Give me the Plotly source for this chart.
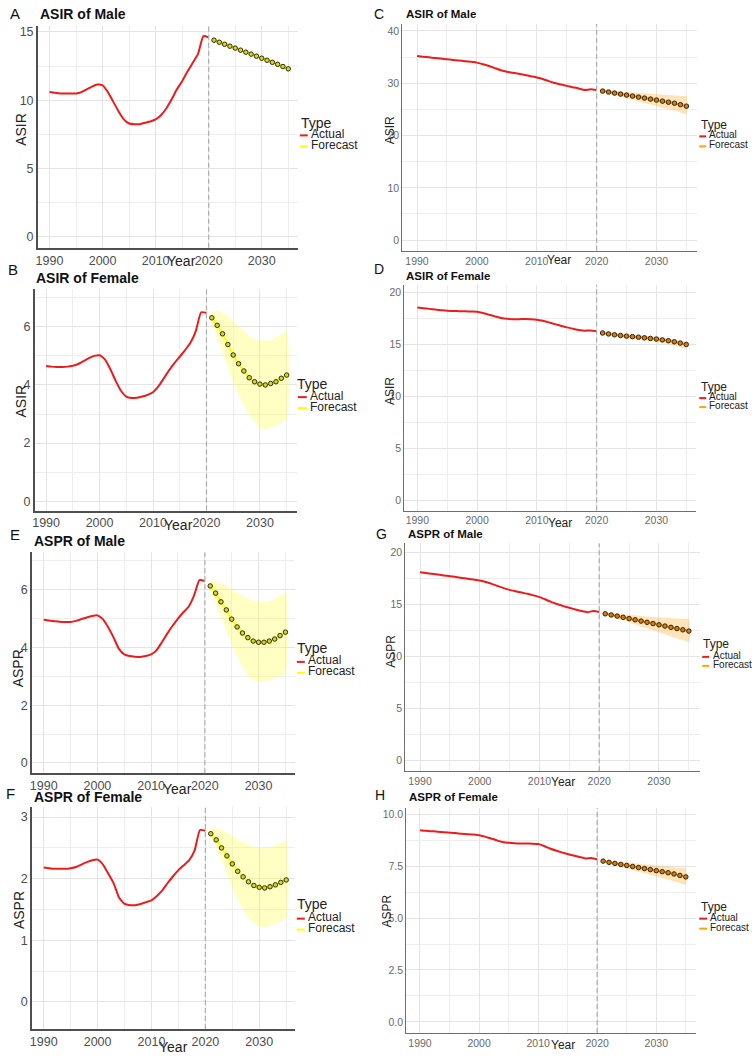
import plotly.graph_objects as go

W, H = 752, 1058

# ---------------- data ----------------
years_actual = list(range(1990, 2021))
years_forecast = list(range(2021, 2036))
divider_year = 2020

# A: ASIR of Male (left)
a_actual = [10.6, 10.55, 10.5, 10.5, 10.5, 10.5, 10.6, 10.8, 11.0, 11.15, 11.1, 10.6, 9.9, 9.2, 8.6,
            8.3, 8.25, 8.25, 8.35, 8.45, 8.6, 8.9, 9.4, 10.05, 10.8, 11.4, 12.1, 12.75, 13.4, 14.7, 14.6]
a_forecast = [14.4, 14.25, 14.1, 13.96, 13.82, 13.67, 13.52, 13.38, 13.23, 13.08, 12.93, 12.78, 12.63, 12.47, 12.3]

# B: ASIR of Female (left)
b_actual = [4.65, 4.63, 4.62, 4.62, 4.63, 4.66, 4.72, 4.82, 4.92, 5.0, 5.02, 4.88, 4.55, 4.15, 3.8,
            3.6, 3.55, 3.56, 3.6, 3.66, 3.75, 3.95, 4.22, 4.5, 4.75, 4.97, 5.2, 5.45, 5.85, 6.5, 6.48]
b_forecast = [6.31, 6.05, 5.76, 5.39, 5.03, 4.73, 4.48, 4.25, 4.11, 4.03, 4.0, 4.05, 4.11, 4.23, 4.34]
b_upper = [6.54, 6.54, 6.47, 6.37, 6.2, 6.02, 5.85, 5.68, 5.6, 5.54, 5.53, 5.54, 5.62, 5.75, 5.85]
b_lower = [6.08, 5.62, 5.1, 4.6, 4.12, 3.68, 3.3, 3.0, 2.74, 2.54, 2.48, 2.51, 2.6, 2.71, 2.79]

# E: ASPR of Male (left)
e_actual = [4.96, 4.93, 4.91, 4.89, 4.88, 4.88, 4.92, 4.98, 5.04, 5.09, 5.11, 4.98, 4.7, 4.35, 3.95,
            3.76, 3.7, 3.68, 3.67, 3.7, 3.76, 3.9, 4.18, 4.48, 4.75, 5.0, 5.22, 5.42, 5.8, 6.33, 6.3]
e_forecast = [6.13, 5.88, 5.58, 5.3, 4.98, 4.71, 4.5, 4.34, 4.22, 4.18, 4.18, 4.22, 4.29, 4.41, 4.53]
e_upper = [6.32, 6.3, 6.26, 6.15, 6.03, 5.9, 5.8, 5.7, 5.63, 5.58, 5.57, 5.6, 5.69, 5.8, 5.92]
e_lower = [5.98, 5.5, 5.05, 4.58, 4.13, 3.7, 3.32, 3.05, 2.88, 2.8, 2.8, 2.84, 2.92, 3.0, 3.09]

# F: ASPR of Female (left)
f_actual = [2.18, 2.17, 2.16, 2.16, 2.16, 2.17, 2.19, 2.23, 2.27, 2.3, 2.31, 2.23, 2.08, 1.92, 1.69,
            1.59, 1.57, 1.57, 1.59, 1.62, 1.65, 1.72, 1.81, 1.93, 2.04, 2.14, 2.22, 2.3, 2.46, 2.79, 2.78]
f_forecast = [2.73, 2.63, 2.5, 2.37, 2.24, 2.12, 2.03, 1.95, 1.89, 1.86, 1.85, 1.87, 1.9, 1.94, 1.98]
f_upper = [2.84, 2.82, 2.79, 2.75, 2.7, 2.65, 2.59, 2.55, 2.51, 2.5, 2.5, 2.51, 2.54, 2.58, 2.62]
f_lower = [2.68, 2.5, 2.3, 2.08, 1.86, 1.67, 1.49, 1.36, 1.27, 1.23, 1.22, 1.23, 1.27, 1.31, 1.35]

# C: ASIR of Male (right)
c_actual = [35.2, 35.08, 34.96, 34.84, 34.72, 34.6, 34.47, 34.35, 34.22, 34.1, 33.95, 33.65, 33.3, 32.9, 32.5,
            32.2, 32.0, 31.8, 31.6, 31.35, 31.1, 30.8, 30.4, 30.05, 29.75, 29.5, 29.25, 29.0, 28.7, 28.85, 28.7]
c_forecast = [28.5, 28.32, 28.12, 27.93, 27.74, 27.55, 27.36, 27.16, 26.97, 26.78, 26.58, 26.38, 26.18, 25.9, 25.62]
c_upper = [28.7, 28.6, 28.5, 28.42, 28.33, 28.24, 28.16, 28.07, 27.98, 27.9, 27.82, 27.74, 27.66, 27.58, 27.5]
c_lower = [28.3, 28.0, 27.7, 27.4, 27.1, 26.8, 26.52, 26.22, 25.92, 25.62, 25.32, 25.02, 24.72, 24.42, 24.1]

# D: ASIR of Female (right)
d_actual = [18.56, 18.49, 18.42, 18.35, 18.29, 18.24, 18.22, 18.2, 18.18, 18.16, 18.14, 18.02, 17.86, 17.7, 17.55,
            17.46, 17.43, 17.43, 17.44, 17.43, 17.38, 17.27, 17.12, 16.95, 16.8, 16.64, 16.52, 16.4, 16.32, 16.35, 16.26]
d_forecast = [16.1, 16.01, 15.93, 15.86, 15.8, 15.75, 15.7, 15.64, 15.58, 15.52, 15.44, 15.36, 15.26, 15.13, 15.0]
d_upper = [16.2, 16.14, 16.08, 16.02, 15.97, 15.93, 15.88, 15.83, 15.78, 15.72, 15.65, 15.57, 15.48, 15.37, 15.27]
d_lower = [16.0, 15.88, 15.77, 15.68, 15.6, 15.54, 15.46, 15.39, 15.31, 15.23, 15.13, 15.03, 14.92, 14.76, 14.6]

# G: ASPR of Male (right)
g_actual = [18.08, 18.0, 17.92, 17.85, 17.77, 17.7, 17.62, 17.53, 17.45, 17.37, 17.28, 17.13, 16.96, 16.75, 16.55,
            16.38, 16.25, 16.12, 16.0, 15.85, 15.68, 15.45, 15.2, 15.0, 14.82, 14.66, 14.5, 14.35, 14.24, 14.34, 14.24]
g_forecast = [14.08, 13.97, 13.86, 13.74, 13.62, 13.5, 13.38, 13.26, 13.14, 13.02, 12.9, 12.78, 12.66, 12.54, 12.42]
g_upper = [14.18, 14.13, 14.08, 14.03, 13.98, 13.93, 13.88, 13.83, 13.78, 13.74, 13.7, 13.66, 13.62, 13.58, 13.54]
g_lower = [13.98, 13.8, 13.62, 13.43, 13.25, 13.06, 12.87, 12.68, 12.49, 12.3, 12.11, 11.92, 11.73, 11.55, 11.36]

# H: ASPR of Female (right)
h_actual = [9.24, 9.21, 9.19, 9.17, 9.14, 9.12, 9.1, 9.07, 9.05, 9.03, 9.0, 8.93, 8.84, 8.75, 8.67,
            8.63, 8.61, 8.6, 8.6, 8.59, 8.57, 8.48, 8.36, 8.26, 8.17, 8.09, 8.02, 7.95, 7.88, 7.9, 7.83]
h_forecast = [7.75, 7.69, 7.64, 7.59, 7.54, 7.49, 7.44, 7.39, 7.34, 7.29, 7.24, 7.19, 7.13, 7.06, 6.99]
h_upper = [7.78, 7.76, 7.73, 7.71, 7.68, 7.66, 7.63, 7.6, 7.58, 7.55, 7.52, 7.49, 7.46, 7.43, 7.4]
h_lower = [7.7, 7.62, 7.55, 7.47, 7.39, 7.31, 7.24, 7.16, 7.08, 7.0, 6.93, 6.85, 6.77, 6.7, 6.62]

legend_title = "Type"
legend_labels = ["Actual", "Forecast"]

# ---------------- styles ----------------
FONT = "Liberation Sans, Arial, sans-serif"
RED = "#ec1c1c"
STYLES = {
    "left": dict(fc_line="#ffff00", dot_fill="#d6d620", dot_edge="#2e2e12", band="rgba(255,255,60,0.30)",
                 tick_size=12.5, tick_color="#4d4d4d", title_size=14, letter_size=15, axis_title_size=14,
                 leg_title_size=14, leg_item_size=12, axis_color="#4f4f4f", axis_width=1.6, dot_size=4.5),
    "right": dict(fc_line="#ffa500", dot_fill="#c97f1a", dot_edge="#3a2206", band="rgba(255,170,40,0.32)",
                  tick_size=10.5, tick_color="#6a6a6a", title_size=11.5, letter_size=14, axis_title_size=12,
                  leg_title_size=12, leg_item_size=10, axis_color="#6f6f6f", axis_width=1.3, dot_size=4.5),
}

# panel layout (pixel geometry)
panels = [
    dict(letter="A", title="ASIR of Male", ytitle="ASIR", style="left",
         actual=a_actual, fc=a_forecast, hi=None, lo=None,
         dom=(35, 296, 25, 247), xr=(1987.8, 2036.8), yr=(-0.8, 15.44), ydt=5, ymin=2.5, yfmt="",
         letter_pos=(12, 13), title_pos=(35, 13), ytitle_pos=(18, 128), xtitle_pos=(179, 260),
         leg=(297, 122, 133, 144, 298, 306, 307)),
    dict(letter="B", title="ASIR of Female", ytitle="ASIR", style="left",
         actual=b_actual, fc=b_forecast, hi=b_upper, lo=b_lower,
         dom=(32, 295, 288, 510), xr=(1987.9, 2036.9), yr=(-0.32, 7.31), ydt=2, ymin=1, yfmt="",
         letter_pos=(10, 269), title_pos=(31, 277), ytitle_pos=(18, 400), xtitle_pos=(176, 524),
         leg=(293, 383, 395, 406, 296, 305, 306)),
    dict(letter="E", title="ASPR of Male", ytitle="ASPR", style="left",
         actual=e_actual, fc=e_forecast, hi=e_upper, lo=e_lower,
         dom=(29, 293, 552, 773), xr=(1987.8, 2036.75), yr=(-0.36, 7.29), ydt=2, ymin=1, yfmt="",
         letter_pos=(12, 534), title_pos=(29, 541), ytitle_pos=(15, 668), xtitle_pos=(175, 789),
         leg=(293, 648, 660, 671, 295, 303, 304)),
    dict(letter="F", title="ASPR of Female", ytitle="ASPR", style="left",
         actual=f_actual, fc=f_forecast, hi=f_upper, lo=f_lower,
         dom=(29, 293, 807, 1029), xr=(1987.8, 2036.6), yr=(-0.44, 3.16), ydt=1, ymin=0.5, yfmt="",
         letter_pos=(8, 793), title_pos=(29, 797), ytitle_pos=(16, 910), xtitle_pos=(171, 1047),
         leg=(293, 904, 917, 928, 295, 303, 304)),
    dict(letter="C", title="ASIR of Male", ytitle="ASIR", style="right",
         actual=c_actual, fc=c_forecast, hi=c_upper, lo=c_lower,
         dom=(401, 697, 23, 250), xr=(1987.56, 2036.8), yr=(-2.04, 41.34), ydt=10, ymin=5, yfmt="",
         letter_pos=(378, 13), title_pos=(403, 13), ytitle_pos=(388, 129), xtitle_pos=(558, 259),
         leg=(699, 124, 134, 144, 699, 706, 707)),
    dict(letter="D", title="ASIR of Female", ytitle="ASIR", style="right",
         actual=d_actual, fc=d_forecast, hi=d_upper, lo=d_lower,
         dom=(403, 696, 284, 510), xr=(1987.83, 2036.67), yr=(-0.96, 20.74), ydt=5, ymin=2.5, yfmt="",
         letter_pos=(378, 268), title_pos=(403, 275), ytitle_pos=(388, 390), xtitle_pos=(559, 522),
         leg=(699, 386, 396, 405, 699, 706, 707)),
    dict(letter="G", title="ASPR of Male", ytitle="ASPR", style="right",
         actual=g_actual, fc=g_forecast, hi=g_upper, lo=g_lower,
         dom=(404, 700, 543, 771), xr=(1987.55, 2036.9), yr=(-1.06, 20.84), ydt=5, ymin=2.5, yfmt="",
         letter_pos=(380, 534), title_pos=(405, 534), ytitle_pos=(390, 651), xtitle_pos=(562, 782),
         leg=(701, 644, 655, 664, 702, 709, 711)),
    dict(letter="H", title="ASPR of Female", ytitle="ASPR", style="right",
         actual=h_actual, fc=h_forecast, hi=h_upper, lo=h_lower,
         dom=(405, 696, 808, 1033), xr=(1987.7, 2036.76), yr=(-0.54, 10.3), ydt=2.5, ymin=1.25, yfmt=".1f",
         letter_pos=(379, 795), title_pos=(406, 797), ytitle_pos=(386, 911), xtitle_pos=(562, 1045),
         leg=(699, 907, 917, 927, 699, 707, 708)),
]


def px(x):
    return x / W


def py(y):
    return 1 - y / H


fig = go.Figure()
annotations = []
shapes = []
layout_axes = {}

for i, p in enumerate(panels, start=1):
    st = STYLES[p["style"]]
    xa = "x" if i == 1 else f"x{i}"
    ya = "y" if i == 1 else f"y{i}"

    if p["hi"] is not None:
        fig.add_trace(go.Scatter(
            x=years_forecast + years_forecast[::-1], y=p["hi"] + p["lo"][::-1],
            fill="toself", fillcolor=st["band"], line=dict(width=0, shape="spline", smoothing=0.6),
            mode="lines", hoverinfo="skip", showlegend=False, xaxis=xa, yaxis=ya))
    fig.add_trace(go.Scatter(
        x=years_actual, y=p["actual"], mode="lines",
        line=dict(color=RED, width=2, shape="spline", smoothing=0.5),
        name=legend_labels[0], showlegend=False, xaxis=xa, yaxis=ya))
    fig.add_trace(go.Scatter(
        x=years_forecast, y=p["fc"], mode="lines+markers",
        line=dict(color=st["fc_line"], width=2, shape="spline", smoothing=0.5),
        marker=dict(size=st["dot_size"], color=st["dot_fill"], line=dict(color=st["dot_edge"], width=1)),
        name=legend_labels[1], showlegend=False, xaxis=xa, yaxis=ya))

    x0, x1, y0, y1 = p["dom"]
    axis_common = dict(showline=True, linecolor=st["axis_color"], linewidth=st["axis_width"],
                       showgrid=True, gridcolor="#e4e4e4", gridwidth=1, zeroline=False,
                       ticks="", tickfont=dict(family=FONT, size=st["tick_size"], color=st["tick_color"]),
                       fixedrange=True)
    layout_axes["xaxis" if i == 1 else f"xaxis{i}"] = dict(
        axis_common, domain=[px(x0), px(x1)], range=list(p["xr"]), anchor=ya,
        tick0=1990, dtick=10, minor=dict(dtick=5, tick0=1990, showgrid=True, gridcolor="#eeeeee"))
    layout_axes["yaxis" if i == 1 else f"yaxis{i}"] = dict(
        axis_common, domain=[py(y1), py(y0)], range=list(p["yr"]), anchor=xa,
        tick0=0, dtick=p["ydt"], tickformat=p["yfmt"],
        minor=dict(dtick=p["ymin"], tick0=0, showgrid=True, gridcolor="#eeeeee"))

    # forecast divider
    shapes.append(dict(type="line", xref=xa, yref=f"{ya} domain", x0=divider_year, x1=divider_year,
                       y0=0, y1=1, line=dict(color="#b0b0b0", width=1.3, dash="5px,3px")))

    # texts
    lx, ly = p["letter_pos"]
    annotations.append(dict(text=p["letter"], x=px(lx), y=py(ly), xref="paper", yref="paper",
                            showarrow=False, xanchor="center", yanchor="middle",
                            font=dict(family=FONT, size=st["letter_size"], color="#111")))
    tx, ty = p["title_pos"]
    annotations.append(dict(text=f"<b>{p['title']}</b>", x=px(tx), y=py(ty), xref="paper", yref="paper",
                            showarrow=False, xanchor="left", yanchor="middle",
                            font=dict(family=FONT, size=st["title_size"], color="#111")))
    yx, yy = p["ytitle_pos"]
    annotations.append(dict(text=p["ytitle"], x=px(yx), y=py(yy), xref="paper", yref="paper",
                            showarrow=False, xanchor="center", yanchor="middle", textangle=-90,
                            font=dict(family=FONT, size=st["axis_title_size"], color="#222")))
    xx, xy = p["xtitle_pos"]
    annotations.append(dict(text="Year", x=px(xx), y=py(xy), xref="paper", yref="paper",
                            showarrow=False, xanchor="center", yanchor="middle",
                            font=dict(family=FONT, size=st["axis_title_size"], color="#222")))

    # legend
    gx, gy, ay, fy, kx0, kx1, tx2 = p["leg"]
    annotations.append(dict(text=legend_title, x=px(gx), y=py(gy), xref="paper", yref="paper",
                            showarrow=False, xanchor="left", yanchor="middle",
                            font=dict(family=FONT, size=st["leg_title_size"], color="#222")))
    for lab, yy2, col in ((legend_labels[0], ay, RED), (legend_labels[1], fy, st["fc_line"])):
        annotations.append(dict(text=lab, x=px(tx2), y=py(yy2), xref="paper", yref="paper",
                                showarrow=False, xanchor="left", yanchor="middle",
                                font=dict(family=FONT, size=st["leg_item_size"], color="#222")))
        shapes.append(dict(type="line", xref="paper", yref="paper", x0=px(kx0), x1=px(kx1),
                           y0=py(yy2 + 1.5), y1=py(yy2 + 1.5), line=dict(color=col, width=2)))

fig.update_layout(
    width=W, height=H, autosize=False,
    margin=dict(l=0, r=0, t=0, b=0, pad=0),
    paper_bgcolor="white", plot_bgcolor="white",
    showlegend=False,
    annotations=annotations, shapes=shapes,
    font=dict(family=FONT),
    **layout_axes,
)

fig.write_html("out.html",
               config={"displayModeBar": False},
               post_script="document.body.style.margin='0px';document.body.style.padding='0px';"
                           "document.body.style.overflow='hidden';")
